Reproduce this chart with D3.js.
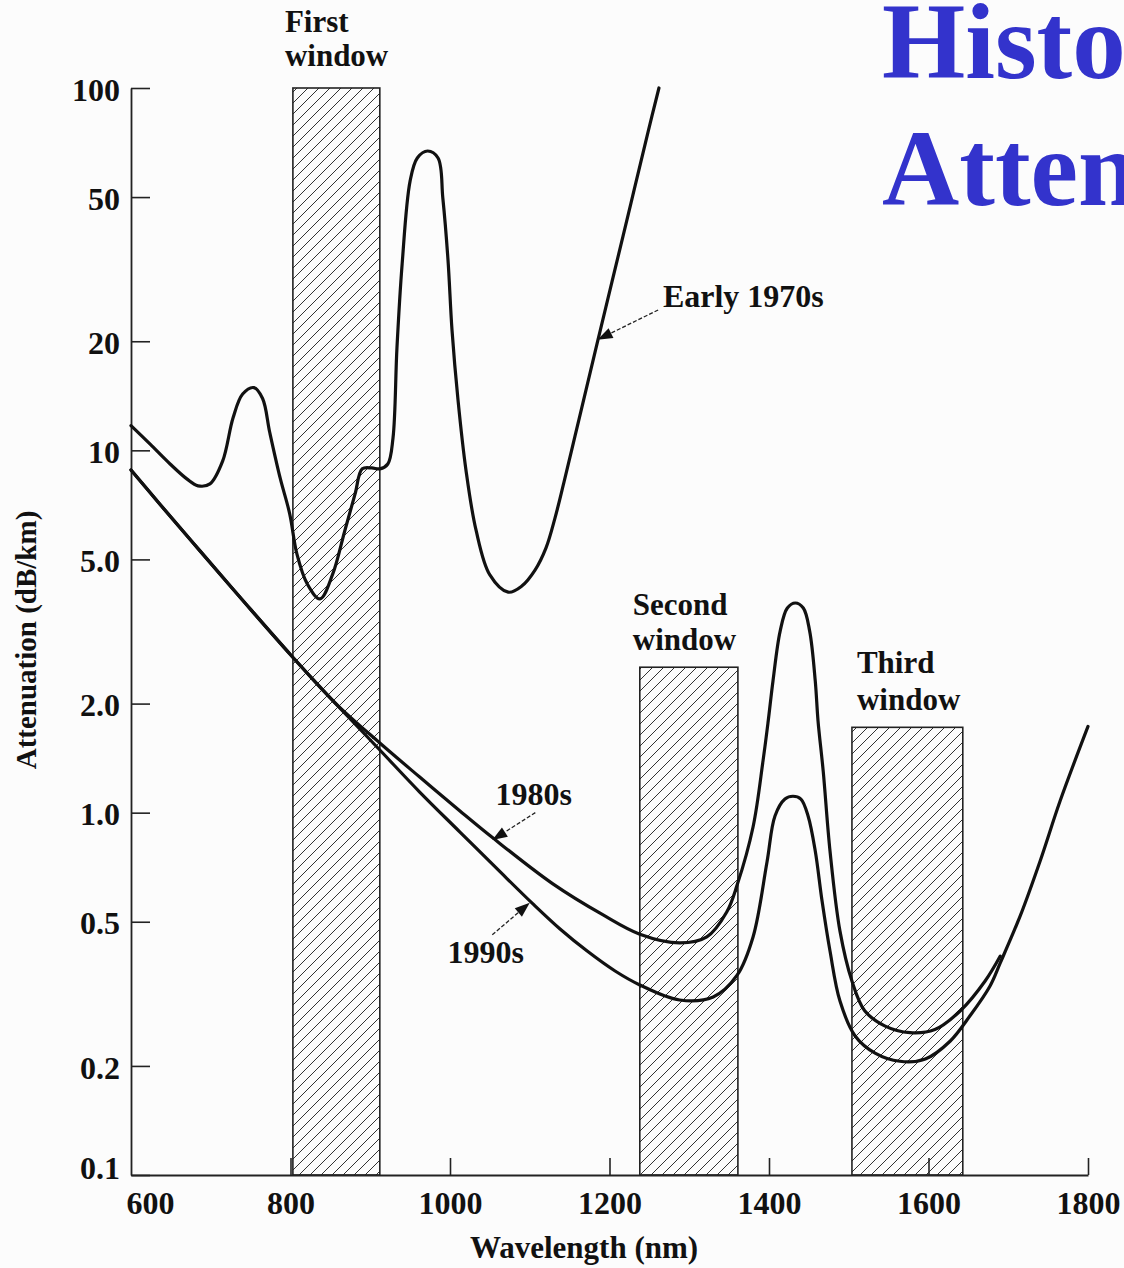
<!DOCTYPE html>
<html><head><meta charset="utf-8">
<script src="https://cdn.jsdelivr.net/npm/d3@7"></script>
<style>html,body{margin:0;padding:0;background:#fcfcfc;} svg{display:block}</style>
</head><body><svg id="c" width="1124" height="1268"></svg>
<script>
// ---- data ----
const xTicks = [600, 800, 1000, 1200, 1400, 1600, 1800];
const yTicks = [0.1, 0.2, 0.5, 1, 2, 5, 10, 20, 50, 100];
const yTickLabels = ["0.1", "0.2", "0.5", "1.0", "2.0", "5.0", "10", "20", "50", "100"];

const windowNames = [["First", "window"], ["Second", "window"], ["Third", "window"]];
const windowStart = [803, 1238, 1504];
const windowEnd = [912, 1361, 1643];
const windowTop = [100, 2.52, 1.72];

const early1970s = [[600,11.7],[624,10.4],[649,9.17],[670,8.34],[684,7.98],[699,8.08],[715,9.35],[728,12.3],[740,14.3],[754,14.9],[765,13.9],[774,11.2],[787,8.39],[799,6.68],[808,5.18],[821,4.28],[837,3.89],[853,4.56],[868,5.99],[881,7.58],[890,8.89],[902,8.94],[912,8.89],[922,9.17],[928.5,10.8],[933.5,19.2],[940,32.7],[950,55.4],[959,64.1],[972,67],[985,64.1],[991,49.7],[997.5,33.5],[1002.5,21.5],[1010,13.8],[1020,8.83],[1032.6,6.03],[1050,4.53],[1073,4.06],[1090,4.22],[1106.6,4.67],[1120.4,5.38],[1131.7,6.51],[1143,8.18],[1156.8,10.96],[1170.5,14.67],[1185.6,20.2],[1203,29.1],[1227,48.2],[1248.3,75.6],[1262,100]];

const s1980s = [[600,8.83],[636,7.11],[686.5,5.28],[743,3.79],[800.6,2.72],[855.8,2.01],[912,1.557],[962,1.254],[1012.5,1.011],[1054,0.851],[1129,0.636],[1192,0.522],[1238,0.462],[1288,0.437],[1322,0.454],[1347,0.532],[1360,0.631],[1380,0.913],[1392.5,1.39],[1399,1.79],[1405,2.31],[1414,3.17],[1423,3.67],[1433,3.79],[1443,3.67],[1451,3.17],[1458,2.31],[1461.5,1.79],[1468,1.30],[1476.5,0.784],[1489,0.471],[1504,0.343],[1520,0.284],[1545,0.258],[1577,0.247],[1608,0.252],[1640,0.284],[1671,0.343],[1690,0.402]];

const s1990s = [[600,8.83],[636,7.11],[686.5,5.28],[743,3.79],[800.6,2.72],[855.8,2.01],[912,1.489],[962,1.140],[1012.5,0.884],[1063,0.686],[1104,0.560],[1138,0.4775],[1172,0.415],[1207,0.3656],[1238,0.3346],[1288,0.304],[1330,0.310],[1360,0.356],[1380,0.454],[1397.5,0.731],[1407.5,0.979],[1420,1.09],[1430,1.11],[1440,1.09],[1449,0.979],[1458,0.784],[1466.5,0.571],[1476.5,0.415],[1489,0.302],[1508,0.242],[1533,0.217],[1564,0.206],[1596,0.209],[1627,0.234],[1652,0.275],[1677,0.332],[1690,0.385],[1715,0.519],[1740,0.736],[1765,1.077],[1800,1.73]];

const annLabels = ["Early 1970s", "1980s", "1990s"];
const annTip = [[1185, 20.2], [1053, 0.84], [1100, 0.564]];
const annTail = [[1261, 24.4], [1107, 1.0], [1053, 0.46]];
const annText = [[1267, 24.9], [1057, 1.05], [997, 0.385]];

const titleLines = ["Histo", "Atten"];

// ---- drawing ----
const svg = d3.select("#c");
const FONT = "'Liberation Serif', 'Times New Roman', serif";
svg.append("rect").attr("width", 1124).attr("height", 1268).attr("fill", "#fcfcfc");

const x = d3.scaleLinear().domain([600, 1800]).range([131, 1088]);
const y = d3.scaleLog().domain([0.1, 100]).range([1175, 88]);

// hatch pattern
const defs = svg.append("defs");
const pat = defs.append("pattern").attr("id", "hatch").attr("patternUnits", "userSpaceOnUse")
  .attr("width", 11).attr("height", 11);
pat.append("path").attr("d", "M0,11 L11,0 M-3,3 L3,-3 M8,14 L14,8")
  .attr("stroke", "#333").attr("stroke-width", 1);

// windows
windowNames.forEach((nm, i) => {
  const x0 = x(windowStart[i]), x1 = x(windowEnd[i]), yt = y(windowTop[i]), yb = y(0.1);
  svg.append("rect").attr("x", x0).attr("y", yt).attr("width", x1 - x0).attr("height", yb - yt)
    .attr("fill", "url(#hatch)").attr("stroke", "#222").attr("stroke-width", 1.6);
  const dx = [-8, -7, 5][i];
  const off1 = [-56, -52, -54][i], off2 = [-22, -17, -17][i];
  svg.append("text").attr("x", x0 + dx).attr("y", yt + off1).text(nm[0])
    .attr("font-family", FONT).attr("font-weight", "bold").attr("font-size", 31).attr("fill", "#111");
  svg.append("text").attr("x", x0 + dx).attr("y", yt + off2).text(nm[1])
    .attr("font-family", FONT).attr("font-weight", "bold").attr("font-size", 31).attr("fill", "#111");
});

// axes
const yAxis = d3.axisLeft(y).tickValues(yTicks).tickFormat((d, i) => yTickLabels[i])
  .tickSize(-19).tickSizeOuter(0).tickPadding(11);
const gy = svg.append("g").attr("transform", "translate(131,0)").call(yAxis);
const xAxis = d3.axisBottom(x).tickValues(xTicks).tickFormat(d3.format("d"))
  .tickSize(-17).tickSizeOuter(0).tickPadding(16);
const gx = svg.append("g").attr("transform", "translate(0,1175)").call(xAxis);
[gx, gy].forEach(g => {
  g.select(".domain").attr("stroke", "#222").attr("stroke-width", 1.8);
  g.selectAll(".tick line").attr("stroke", "#222").attr("stroke-width", 1.6);
  g.selectAll(".tick text").attr("font-family", FONT).attr("font-weight", "bold")
    .attr("font-size", 32).attr("fill", "#111");
});
gy.selectAll(".tick text").attr("dy", d => d === 0.1 ? "0.1em" : "0.38em");
gx.selectAll(".tick text").attr("dx", d => d === 600 ? 19 : 0);
gx.selectAll(".tick").filter(d => d === 600).select("line").remove();

// axis titles
svg.append("text").attr("transform", "translate(36,640) rotate(-90)").attr("text-anchor", "middle")
  .attr("font-family", FONT).attr("font-weight", "bold").attr("font-size", 29).attr("fill", "#111")
  .text("Attenuation (dB/km)");
svg.append("text").attr("x", 584).attr("y", 1258).attr("text-anchor", "middle")
  .attr("font-family", FONT).attr("font-weight", "bold").attr("font-size", 31).attr("fill", "#111")
  .text("Wavelength (nm)");

// curves
const line = d3.line().x(d => x(d[0])).y(d => y(d[1])).curve(d3.curveCatmullRom.alpha(0.5));
[early1970s, s1980s, s1990s].forEach(s => {
  svg.append("path").attr("d", line(s)).attr("fill", "none").attr("stroke", "#111")
    .attr("stroke-width", 3.2).attr("stroke-linejoin", "round").attr("stroke-linecap", "round");
});

// annotations
annLabels.forEach((lab, i) => {
  const tx = x(annTip[i][0]), ty = y(annTip[i][1]);
  const sx = x(annTail[i][0]), sy = y(annTail[i][1]);
  const ang = Math.atan2(ty - sy, tx - sx);
  const L = 15, W = 5.5;
  const bx = tx - L * Math.cos(ang), by = ty - L * Math.sin(ang);
  svg.append("line").attr("x1", sx).attr("y1", sy).attr("x2", bx).attr("y2", by)
    .attr("stroke", "#222").attr("stroke-width", 1.3).attr("stroke-dasharray", "4,2");
  const p = [[tx, ty], [bx + W * Math.sin(ang), by - W * Math.cos(ang)], [bx - W * Math.sin(ang), by + W * Math.cos(ang)]];
  svg.append("path").attr("d", "M" + p.map(q => q.join(",")).join("L") + "Z").attr("fill", "#111");
  svg.append("text").attr("x", x(annText[i][0])).attr("y", y(annText[i][1])).text(lab)
    .attr("font-family", FONT).attr("font-weight", "bold").attr("font-size", 32).attr("fill", "#111");
});

// title (partially cut off at right edge, as in the reference)
titleLines.forEach((t, i) => {
  svg.append("text").attr("x", 882).attr("y", 78 + i * 127).text(t)
    .attr("font-family", FONT).attr("font-weight", "bold").attr("font-size", 107).attr("fill", "#3333cc");
});
</script></body></html>
